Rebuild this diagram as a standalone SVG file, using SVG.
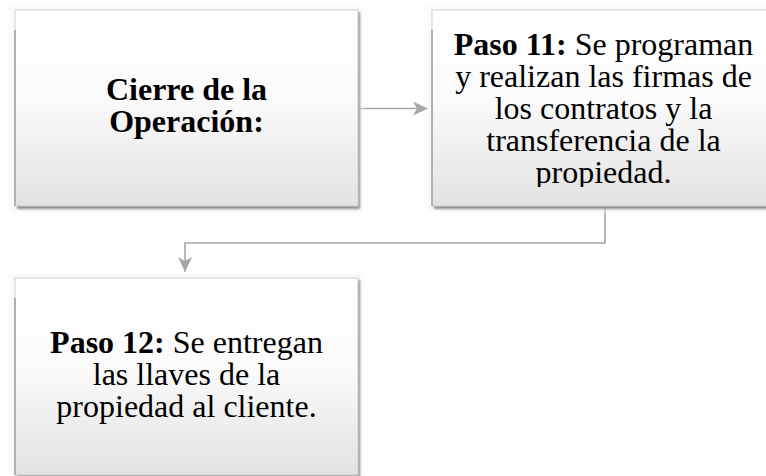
<svg xmlns="http://www.w3.org/2000/svg" width="766" height="476" viewBox="0 0 766 476">
<style>
.box{fill:url(#g);stroke:#cfcfcf;stroke-width:1}
.edge{stroke:#b0b0b0;stroke-width:2}
.shadow{fill:#8f8f8f;filter:url(#blur)}
.conn{fill:none;stroke:#a6a6a6;stroke-width:1.6}
.t{font-family:"Liberation Serif","Times New Roman",serif;font-size:32px;fill:#000;text-anchor:middle}
.b{font-weight:bold}
</style>
<defs>
<linearGradient id="g" x1="0" y1="0" x2="0" y2="1">
<stop offset="0" stop-color="#ffffff"/>
<stop offset="0.45" stop-color="#fbfbfb"/>
<stop offset="1" stop-color="#e2e2e2"/>
</linearGradient>
<filter id="blur" x="-10%" y="-10%" width="120%" height="120%">
<feGaussianBlur stdDeviation="1.2"/>
</filter>
<filter id="glow" x="-10%" y="-10%" width="120%" height="120%">
<feGaussianBlur stdDeviation="2.5"/>
</filter>
<marker id="arr" markerUnits="userSpaceOnUse" markerWidth="18" markerHeight="16" refX="15" refY="7" orient="auto">
<path d="M0,0 L15,7 L0,14 L4,7 z" fill="#a6a6a6"/>
</marker>
<clipPath id="c2"><rect x="432" y="10" width="343" height="177"/></clipPath>
</defs>

<g id="connectors">
<path class="conn" d="M358,108.5 H428" marker-end="url(#arr)"/>
<path class="conn" d="M605,207 V243 H185 V272" marker-end="url(#arr)"/>
</g>

<g id="node1">
<rect x="10" y="5" width="353" height="207" fill="#f4f4f4" filter="url(#glow)" opacity="0.6"/>
<rect class="shadow" x="17" y="12" width="343" height="197"/>
<rect class="box" x="15" y="10" width="343" height="196"/>
<line class="edge" x1="15" y1="30" x2="15" y2="206"/>
<text class="t b" x="186.5" y="100">Cierre de la</text>
<text class="t b" x="186.5" y="132">Operación:</text>
</g>

<g id="node2">
<rect x="427" y="5" width="353" height="207" fill="#f4f4f4" filter="url(#glow)" opacity="0.6"/>
<rect class="shadow" x="434" y="12" width="343" height="197"/>
<rect class="box" x="432" y="10" width="343" height="196"/>
<line class="edge" x1="432" y1="30" x2="432" y2="206"/>
<g clip-path="url(#c2)">
<text class="t" x="603.5" y="55"><tspan class="b">Paso 11:</tspan> Se programan</text>
<text class="t" x="603.5" y="87">y realizan las firmas de</text>
<text class="t" x="603.5" y="119">los contratos y la</text>
<text class="t" x="603.5" y="151">transferencia de la</text>
<text class="t" x="603.5" y="183">propiedad.</text>
</g>
</g>

<g id="node3">
<rect x="10" y="273" width="353" height="207" fill="#f4f4f4" filter="url(#glow)" opacity="0.6"/>
<rect class="shadow" x="17" y="280" width="343" height="197"/>
<rect class="box" x="15" y="278" width="343" height="197"/>
<line class="edge" x1="15" y1="298" x2="15" y2="475"/>
<text class="t" x="186.5" y="353"><tspan class="b">Paso 12:</tspan> Se entregan</text>
<text class="t" x="186.5" y="385">las llaves de la</text>
<text class="t" x="186.5" y="417">propiedad al cliente.</text>
</g>
</svg>
